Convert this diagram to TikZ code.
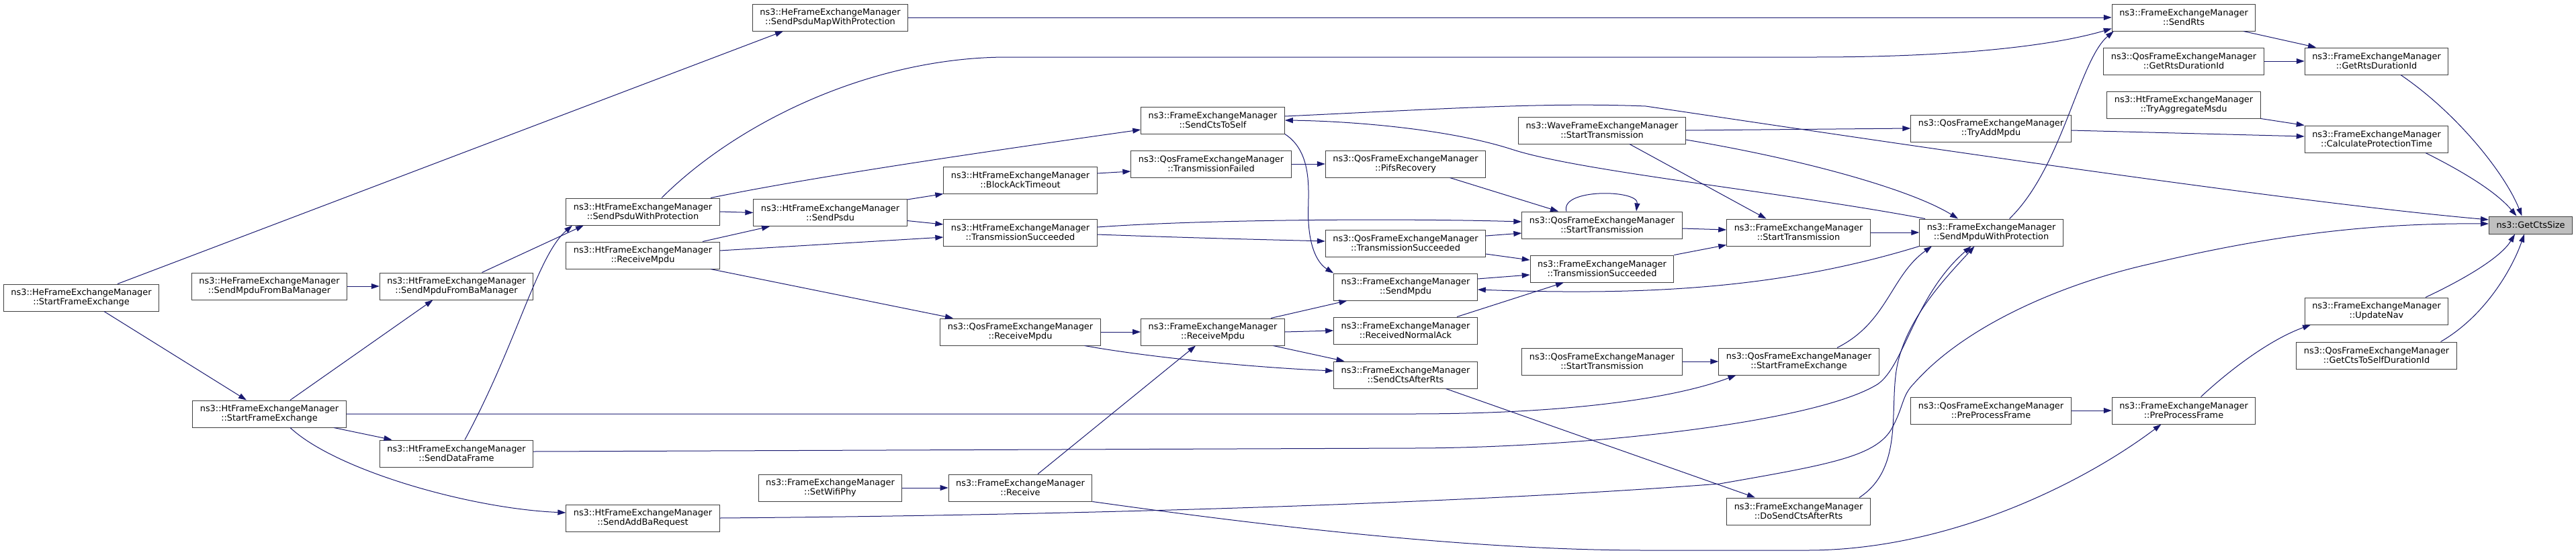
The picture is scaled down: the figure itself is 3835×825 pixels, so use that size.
\documentclass[tikz,border=0pt]{standalone}
\usepackage{fontspec}
\setmainfont{DejaVu Sans}
\usepackage{tikz}
\usetikzlibrary{arrows.meta}
\definecolor{doxy blue}{HTML}{191970}
\definecolor{doxy gray}{HTML}{404040}
\definecolor{doxy focus}{HTML}{BFBFBF}
\newcommand{\fnsize}{\fontsize{12.9}{14.3}\selectfont}

\begin{document}
\begin{tikzpicture}[x=1pt, y=-1pt,
	fn/.style={draw=doxy gray, fill=white, line width=1pt, inner xsep=11pt, inner ysep=2pt,
		minimum height=40pt, align=center, font=\fnsize},
	calledge/.style={draw=doxy blue, line width=1pt, -{Triangle[length=12pt,width=8pt]}}]
			\useasboundingbox (0,0) rectangle (3835,825);
			% callers, left part
			\node[fn] (heSFE) at (121,443) {ns3::HeFrameExchangeManager\\::StartFrameExchange};
			\node[fn] (heSMBa) at (401,426) {ns3::HeFrameExchangeManager\\::SendMpduFromBaManager};
			\node[fn] (htSFE) at (401,616) {ns3::HtFrameExchangeManager\\::StartFrameExchange};
			\node[fn] (htSMBa) at (679.5,426) {ns3::HtFrameExchangeManager\\::SendMpduFromBaManager};
			\node[fn] (htSDF) at (679.5,675) {ns3::HtFrameExchangeManager\\::SendDataFrame};
			\node[fn] (htSPWP) at (957,315) {ns3::HtFrameExchangeManager\\::SendPsduWithProtection};
			\node[fn] (htRM) at (957,380) {ns3::HtFrameExchangeManager\\::ReceiveMpdu};
			\node[fn] (htSABR) at (957,771) {ns3::HtFrameExchangeManager\\::SendAddBaRequest};
			\node[fn] (heSPMWP) at (1236,26) {ns3::HeFrameExchangeManager\\::SendPsduMapWithProtection};
			\node[fn] (htSP) at (1236,316.5) {ns3::HtFrameExchangeManager\\::SendPsdu};
			\node[fn] (feSWP) at (1236,726) {ns3::FrameExchangeManager\\::SetWifiPhy};
			\node[fn] (htBAT) at (1519,268) {ns3::HtFrameExchangeManager\\::BlockAckTimeout};
			\node[fn] (htTS) at (1519,346) {ns3::HtFrameExchangeManager\\::TransmissionSucceeded};
			\node[fn] (qosRM) at (1519,494) {ns3::QosFrameExchangeManager\\::ReceiveMpdu};
			\node[fn] (feR) at (1519,726) {ns3::FrameExchangeManager\\::Receive};
			\node[fn] (feSCTS) at (1805.5,179) {ns3::FrameExchangeManager\\::SendCtsToSelf};
			\node[fn] (qosTF) at (1803,244) {ns3::QosFrameExchangeManager\\::TransmissionFailed};
			\node[fn] (feRM) at (1805.5,494) {ns3::FrameExchangeManager\\::ReceiveMpdu};
			% callers, middle part
			\node[fn] (qosPR) at (2092.5,244) {ns3::QosFrameExchangeManager\\::PifsRecovery};
			\node[fn] (qosTS) at (2092.5,362) {ns3::QosFrameExchangeManager\\::TransmissionSucceeded};
			\node[fn] (feSM) at (2092.5,427) {ns3::FrameExchangeManager\\::SendMpdu};
			\node[fn] (feRNA) at (2092.5,492) {ns3::FrameExchangeManager\\::ReceivedNormalAck};
			\node[fn] (feSCAR) at (2092.5,558) {ns3::FrameExchangeManager\\::SendCtsAfterRts};
			\node[fn] (waveST) at (2385,194) {ns3::WaveFrameExchangeManager\\::StartTransmission};
			\node[fn] (qosST) at (2385,335) {ns3::QosFrameExchangeManager\\::StartTransmission};
			\node[fn] (feTS) at (2385,400) {ns3::FrameExchangeManager\\::TransmissionSucceeded};
			\node[fn] (qosSTb) at (2385,538) {ns3::QosFrameExchangeManager\\::StartTransmission};
			\node[fn] (feST) at (2677.5,346) {ns3::FrameExchangeManager\\::StartTransmission};
			\node[fn] (qosSFE) at (2678,538) {ns3::QosFrameExchangeManager\\::StartFrameExchange};
			\node[fn] (feDSCAR) at (2677.5,761) {ns3::FrameExchangeManager\\::DoSendCtsAfterRts};
			\node[fn] (qosTAM) at (2964,191) {ns3::QosFrameExchangeManager\\::TryAddMpdu};
			\node[fn] (feSMWP) at (2964.5,346) {ns3::FrameExchangeManager\\::SendMpduWithProtection};
			\node[fn] (qosPPF) at (2964,611) {ns3::QosFrameExchangeManager\\::PreProcessFrame};
			% callers, right part
			\node[fn] (feSR) at (3251,26) {ns3::FrameExchangeManager\\::SendRts};
			\node[fn] (qosGRDI) at (3251,91) {ns3::QosFrameExchangeManager\\::GetRtsDurationId};
			\node[fn] (htTAM) at (3251,156) {ns3::HtFrameExchangeManager\\::TryAggregateMsdu};
			\node[fn] (fePPF) at (3251,611) {ns3::FrameExchangeManager\\::PreProcessFrame};
			\node[fn] (feGRDI) at (3538,91) {ns3::FrameExchangeManager\\::GetRtsDurationId};
			\node[fn] (feCPT) at (3538,207) {ns3::FrameExchangeManager\\::CalculateProtectionTime};
			\node[fn] (feUN) at (3538,463) {ns3::FrameExchangeManager\\::UpdateNav};
			\node[fn] (qosGCTSDI) at (3538,529) {ns3::QosFrameExchangeManager\\::GetCtsToSelfDurationId};
			% the function itself
			\node[fn, fill=doxy focus, minimum height=26pt] (cts) at (3767.5,335) {ns3::GetCtsSize};

			% calls
			\draw[calledge] ([xshift=54pt]heSFE.north) -- ([xshift=-70pt]heSPMWP.south);
			\draw[calledge] ([xshift=34pt]heSFE.south) -- ([xshift=-34pt]htSFE.north);
			\draw[calledge] (heSMBa.east) -- (htSMBa.west);
			\draw[calledge] ([xshift=31pt]htSFE.north) -- ([xshift=-35pt]htSMBa.south);
			\draw[calledge] ([xshift=96pt]htSFE.south) -- ([xshift=-96pt]htSDF.north);
			\draw[calledge] ([xshift=31pt]htSFE.south) .. controls (500,700) and (700,757) .. ([yshift=8pt]htSABR.west);
			\draw[calledge] (htSFE.east) -- (2100,616) .. controls (2350,616) and (2500,590) .. ([xshift=-93.5pt]qosSFE.south);
			\draw[calledge] ([xshift=38pt]htSMBa.north) -- ([xshift=-88pt]htSPWP.south);
			\draw[calledge] ([xshift=12.5pt]htSDF.north) .. controls (770,510) and (800,380) .. ([xshift=-105pt]htSPWP.south);
			\draw[calledge] ([yshift=3pt]htSDF.east) -- (2100,667) .. controls (2350,667) and (2700,630) .. (2795,572)
				.. controls (2835,545) and (2850,440) .. ([xshift=-30pt]feSMWP.south);
			\draw[calledge] ([xshift=28pt]htSPWP.north) .. controls (1100,180) and (1300,85) .. (1500,85) -- (2700,85)
				.. controls (2900,85) and (3050,70) .. ([yshift=4pt]feSR.south west);
			\draw[calledge] ([xshift=101pt]htSPWP.north) .. controls (1200,265) and (1450,228) .. ([yshift=-14pt]feSCTS.west);
			\draw[calledge] (htSPWP.east) -- (htSP.west);
			\draw[calledge] ([xshift=89pt]htRM.north) -- ([xshift=-90pt]htSP.south);
			\draw[calledge] ([yshift=7pt]htRM.east) -- ([yshift=-7pt]htTS.west);
			\draw[calledge] ([xshift=101pt]htRM.south) -- ([xshift=-100pt]qosRM.north);
			\draw[calledge] (htSABR.east) .. controls (1800,765) and (2300,740) .. (2560,720)
				.. controls (2720,692) and (2790,680) .. (2815,640) .. controls (2835,605) and (2830,590) .. (2850,570)
				.. controls (2930,480) and (3080,420) .. (3200,393)
				.. controls (3400,345) and (3550,332) .. ([yshift=2pt]cts.west);
			\draw[calledge] (heSPMWP.east) -- ([yshift=0pt]feSR.west);
			\draw[calledge] ([yshift=-1pt]htSP.north east) -- (htBAT.south west);
			\draw[calledge] ([yshift=-12pt]htSP.east) -- ([yshift=12pt]htTS.west);
			\draw[calledge] ([yshift=10pt]htBAT.east) -- ([yshift=-11pt]qosTF.west);
			\draw[calledge] ([yshift=8pt]htTS.east) .. controls (1800,326) and (2100,325) .. ([yshift=5pt]qosST.west);
			\draw[calledge] ([yshift=-3pt]htTS.east) .. controls (1800,355) and (1900,357) .. ([yshift=3pt]qosTS.west);
			\draw[calledge] (qosTF.east) -- (qosPR.west);
			\draw[calledge] (qosRM.east) -- (feRM.west);
			\draw[calledge] ([xshift=95.7pt]qosRM.south) .. controls (1700,530) and (1850,546) .. ([yshift=6pt]feSCAR.west);
			\draw[calledge] (feSWP.east) -- (feR.west);
			\draw[calledge] ([xshift=26pt]feR.north) -- ([xshift=-25.5pt]feRM.south);
			\draw[calledge] (feR.south east) .. controls (1900,785) and (2200,819) .. (2450,819) -- (2690,819)
				.. controls (2900,819) and (3100,720) .. ([xshift=-33.6pt]fePPF.south);
			\draw[calledge] ([yshift=6pt]feSCTS.east) .. controls (2150,162) and (2300,152) .. (2450,158)
				.. controls (2800,210) and (3400,300) .. ([yshift=8pt]cts.west);
			\draw[calledge] (feSCTS.south east) .. controls (1960,230) and (1945,300) .. (1948,330)
				.. controls (1950,370) and (1962,392) .. (feSM.north west);
			\draw[calledge] ([xshift=86.5pt]feRM.north) -- ([xshift=-87pt]feSM.south);
			\draw[calledge] (feRM.east) -- (feRNA.west);
			\draw[calledge] ([xshift=90pt]feRM.south) -- ([xshift=-91pt]feSCAR.north);
			\draw[calledge] ([xshift=66pt]qosPR.south) -- ([xshift=-65pt]qosST.north);
			\draw[calledge] ([xshift=-53pt]qosST.north) .. controls (2322,280) and (2440,282) .. ([xshift=51pt]qosST.north);
			\draw[calledge] ([yshift=11pt]qosTS.east) -- ([yshift=-12pt]qosST.west);
			\draw[calledge] ([yshift=-16pt]qosTS.east) -- ([yshift=13pt]feTS.west);
			\draw[calledge] ([yshift=12pt]feSM.east) -- ([yshift=-9pt]feTS.west);
			\draw[calledge] ([xshift=76.5pt]feRNA.north) -- ([xshift=-57pt]feTS.south);
			\draw[calledge] ([xshift=60pt]feSCAR.south) -- ([xshift=-64.5pt]feDSCAR.north);
			\draw[calledge] (feTS.north east) -- ([yshift=2pt]feST.south west);
			\draw[calledge] ([yshift=-5pt]qosST.east) -- ([yshift=4pt]feST.west);
			\draw[calledge] ([xshift=41pt]waveST.south) -- ([xshift=-48pt]feST.north);
			\draw[calledge] (waveST.east) -- (qosTAM.west);
			\draw[calledge] ([yshift=-14pt]waveST.east) .. controls (2700,240) and (2850,285) .. ([xshift=-49.5pt]feSMWP.north);
			\draw[calledge] (qosSTb.east) -- (qosSFE.west);
			\draw[calledge] ([xshift=57pt]qosSFE.north) .. controls (2810,480) and (2815,410) .. ([xshift=-88.5pt]feSMWP.south);
			\draw[calledge] ([xshift=90.5pt]feDSCAR.north) .. controls (2830,700) and (2815,620) .. (2822,560)
				.. controls (2830,480) and (2900,410) .. ([xshift=-25pt]feSMWP.south);
			\draw[calledge] (feST.east) -- (feSMWP.west);
			\draw[calledge] ([xshift=-98.5pt]feSMWP.north) .. controls (2650,285) and (2350,255) .. (2250,222)
				.. controls (2150,190) and (2000,180) .. (feSCTS.east);
			\draw[calledge] (feSMWP.south west) .. controls (2650,430) and (2450,440) .. ([yshift=-4pt]feSM.east);
			\draw[calledge] ([xshift=27pt]feSMWP.north) .. controls (3070,250) and (3095,90) .. ([xshift=3pt]feSR.south west);
			\draw[calledge] ([yshift=-3pt]qosTAM.east) -- ([yshift=4pt]feCPT.west);
			\draw[calledge] (qosPPF.east) -- (fePPF.west);
			\draw[calledge] ([xshift=25.6pt]fePPF.north) .. controls (3320,550) and (3380,505) .. ([xshift=-98pt]feUN.south);
			\draw[calledge] ([xshift=89pt]feSR.south) -- ([xshift=-90pt]feGRDI.north);
			\draw[calledge] (qosGRDI.east) -- (feGRDI.west);
			\draw[calledge] (htTAM.south east) -- (feCPT.north west);
			\draw[calledge] ([xshift=36pt]feGRDI.south) .. controls (3660,170) and (3730,260) .. ([xshift=-13pt]cts.north);
			\draw[calledge] ([xshift=73pt]feCPT.south) .. controls (3680,262) and (3720,290) .. ([xshift=-21pt]cts.north);
			\draw[calledge] ([xshift=73pt]feUN.north) .. controls (3680,410) and (3725,380) .. ([xshift=-23.5pt]cts.south);
			\draw[calledge] ([xshift=95.6pt]qosGCTSDI.north) .. controls (3700,470) and (3740,400) .. ([xshift=-9.5pt]cts.south);
		\end{tikzpicture}
\end{document}
